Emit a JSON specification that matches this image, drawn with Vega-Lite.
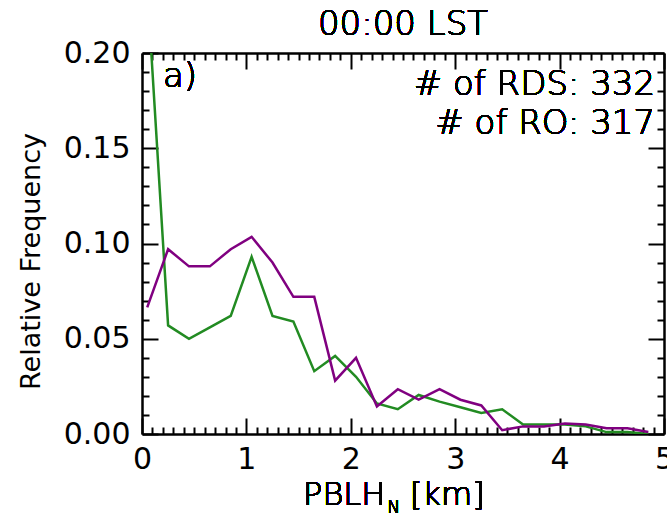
{
  "$schema": "https://vega.github.io/schema/vega-lite/v6.json",
  "autosize": {"type": "none"},
  "padding": {"left": 142, "top": 53, "right": 3, "bottom": 82},
  "width": 522,
  "height": 381,
  "background": "white",
  "config": {
    "view": {"stroke": null},
    "font": "DejaVu Sans",
    "text": {"fontWeight": 300, "font": "DejaVu Sans"},
    "axis": {"grid": false, "domainColor": "black", "tickColor": "black", "labelColor": "black", "titleColor": "black", "labelFlush": false, "labelOverlap": false, "domainWidth": 2.5, "tickWidth": 2}
  },
  "data": {"values": [
    {"km": 0.05, "freq": 0.235, "series": "RDS"},
    {"km": 0.25, "freq": 0.057, "series": "RDS"},
    {"km": 0.45, "freq": 0.050, "series": "RDS"},
    {"km": 0.65, "freq": 0.056, "series": "RDS"},
    {"km": 0.85, "freq": 0.062, "series": "RDS"},
    {"km": 1.05, "freq": 0.093, "series": "RDS"},
    {"km": 1.25, "freq": 0.062, "series": "RDS"},
    {"km": 1.45, "freq": 0.059, "series": "RDS"},
    {"km": 1.65, "freq": 0.033, "series": "RDS"},
    {"km": 1.85, "freq": 0.041, "series": "RDS"},
    {"km": 2.05, "freq": 0.030, "series": "RDS"},
    {"km": 2.25, "freq": 0.016, "series": "RDS"},
    {"km": 2.45, "freq": 0.013, "series": "RDS"},
    {"km": 2.65, "freq": 0.0205, "series": "RDS"},
    {"km": 2.85, "freq": 0.017, "series": "RDS"},
    {"km": 3.05, "freq": 0.014, "series": "RDS"},
    {"km": 3.25, "freq": 0.011, "series": "RDS"},
    {"km": 3.45, "freq": 0.013, "series": "RDS"},
    {"km": 3.65, "freq": 0.005, "series": "RDS"},
    {"km": 3.85, "freq": 0.005, "series": "RDS"},
    {"km": 4.05, "freq": 0.005, "series": "RDS"},
    {"km": 4.25, "freq": 0.004, "series": "RDS"},
    {"km": 4.45, "freq": 0.001, "series": "RDS"},
    {"km": 4.65, "freq": 0.001, "series": "RDS"},
    {"km": 4.85, "freq": 0.0, "series": "RDS"},
    {"km": 0.05, "freq": 0.0665, "series": "RO"},
    {"km": 0.25, "freq": 0.097, "series": "RO"},
    {"km": 0.45, "freq": 0.088, "series": "RO"},
    {"km": 0.65, "freq": 0.088, "series": "RO"},
    {"km": 0.85, "freq": 0.097, "series": "RO"},
    {"km": 1.05, "freq": 0.1035, "series": "RO"},
    {"km": 1.25, "freq": 0.090, "series": "RO"},
    {"km": 1.45, "freq": 0.072, "series": "RO"},
    {"km": 1.65, "freq": 0.072, "series": "RO"},
    {"km": 1.85, "freq": 0.028, "series": "RO"},
    {"km": 2.05, "freq": 0.040, "series": "RO"},
    {"km": 2.25, "freq": 0.0145, "series": "RO"},
    {"km": 2.45, "freq": 0.0235, "series": "RO"},
    {"km": 2.65, "freq": 0.018, "series": "RO"},
    {"km": 2.85, "freq": 0.0236, "series": "RO"},
    {"km": 3.05, "freq": 0.018, "series": "RO"},
    {"km": 3.25, "freq": 0.015, "series": "RO"},
    {"km": 3.45, "freq": 0.002, "series": "RO"},
    {"km": 3.65, "freq": 0.004, "series": "RO"},
    {"km": 3.85, "freq": 0.004, "series": "RO"},
    {"km": 4.05, "freq": 0.0055, "series": "RO"},
    {"km": 4.25, "freq": 0.005, "series": "RO"},
    {"km": 4.45, "freq": 0.003, "series": "RO"},
    {"km": 4.65, "freq": 0.003, "series": "RO"},
    {"km": 4.85, "freq": 0.001, "series": "RO"}
  ]},
  "resolve": {"axis": {"x": "independent", "y": "independent"}},
  "layer": [
    {
      "transform": [{"filter": "datum.series === 'RDS'"}],
      "mark": {"type": "line", "color": "#228B22", "strokeWidth": 2.5, "clip": true},
      "encoding": {
        "x": {"field": "km", "type": "quantitative", "scale": {"domain": [0, 5], "nice": false, "zero": false},
              "axis": {"orient": "bottom", "values": [0, 1, 2, 3, 4, 5], "tickSize": -16, "labelPadding": 26, "labelFontSize": 30, "format": "d", "title": null}},
        "y": {"field": "freq", "type": "quantitative", "scale": {"domain": [0, 0.2], "nice": false},
              "axis": {"orient": "left", "values": [0, 0.05, 0.1, 0.15, 0.2], "tickSize": -16, "labelPadding": 28, "labelFontSize": 30, "format": ".2f", "title": "Relative Frequency", "titleFontSize": 27, "titleFontWeight": "normal", "titleX": -97, "titleY": 208, "titleBaseline": "bottom", "titleAngle": 270, "titleAlign": "center"}}
      }
    },
    {
      "transform": [{"filter": "datum.series === 'RO'"}],
      "mark": {"type": "line", "color": "#800080", "strokeWidth": 2.5, "clip": true},
      "encoding": {
        "x": {"field": "km", "type": "quantitative",
              "axis": {"orient": "top", "values": [0, 1, 2, 3, 4, 5], "tickSize": -16, "labels": false, "title": null}},
        "y": {"field": "freq", "type": "quantitative",
              "axis": {"orient": "right", "values": [0, 0.05, 0.1, 0.15, 0.2], "tickSize": -16, "labels": false, "title": null}}
      }
    },
    {
      "mark": {"type": "text", "text": "a)", "fontSize": 34, "align": "left", "baseline": "alphabetic", "color": "black"},
      "encoding": {
        "x": {"datum": 0.2, "type": "quantitative",
              "axis": {"orient": "bottom", "values": [0.1,0.2,0.3,0.4,0.5,0.6,0.7,0.8,0.9,1.1,1.2,1.3,1.4,1.5,1.6,1.7,1.8,1.9,2.1,2.2,2.3,2.4,2.5,2.6,2.7,2.8,2.9,3.1,3.2,3.3,3.4,3.5,3.6,3.7,3.8,3.9,4.1,4.2,4.3,4.4,4.5,4.6,4.7,4.8,4.9], "tickSize": -7, "labels": false, "domain": false, "title": null}},
        "y": {"datum": 0.1822, "type": "quantitative",
              "axis": {"orient": "left", "values": [0.01,0.02,0.03,0.04,0.06,0.07,0.08,0.09,0.11,0.12,0.13,0.14,0.16,0.17,0.18,0.19], "tickSize": -7, "labels": false, "domain": false, "title": null}}
      }
    },
    {
      "mark": {"type": "text", "text": "# of RDS: 332", "fontSize": 34, "align": "right", "baseline": "alphabetic", "color": "black"},
      "encoding": {
        "x": {"datum": 4.915, "type": "quantitative",
              "axis": {"orient": "top", "values": [0.1,0.2,0.3,0.4,0.5,0.6,0.7,0.8,0.9,1.1,1.2,1.3,1.4,1.5,1.6,1.7,1.8,1.9,2.1,2.2,2.3,2.4,2.5,2.6,2.7,2.8,2.9,3.1,3.2,3.3,3.4,3.5,3.6,3.7,3.8,3.9,4.1,4.2,4.3,4.4,4.5,4.6,4.7,4.8,4.9], "tickSize": -7, "labels": false, "domain": false, "title": null}},
        "y": {"datum": 0.178, "type": "quantitative",
              "axis": {"orient": "right", "values": [0.01,0.02,0.03,0.04,0.06,0.07,0.08,0.09,0.11,0.12,0.13,0.14,0.16,0.17,0.18,0.19], "tickSize": -7, "labels": false, "domain": false, "title": null}}
      }
    },
    {
      "mark": {"type": "text", "text": "# of RO: 317", "fontSize": 34, "align": "right", "baseline": "alphabetic", "color": "black"},
      "encoding": {
        "x": {"datum": 4.915, "type": "quantitative", "axis": null},
        "y": {"datum": 0.1575, "type": "quantitative", "axis": null}
      }
    },
    {
      "mark": {"type": "text", "text": "00:00 LST", "fontSize": 34, "align": "center", "baseline": "alphabetic", "color": "black", "clip": false},
      "encoding": {
        "x": {"datum": 2.5, "type": "quantitative", "axis": null},
        "y": {"datum": 0.2094, "type": "quantitative", "axis": null}
      }
    },
    {
      "mark": {"type": "text", "text": "PBLH", "fontSize": 32, "align": "right", "baseline": "alphabetic", "color": "black", "clip": false},
      "encoding": {
        "x": {"datum": 2.33, "type": "quantitative", "axis": null},
        "y": {"datum": -0.0373, "type": "quantitative", "axis": null}
      }
    },
    {
      "mark": {"type": "text", "text": "N", "fontSize": 17, "align": "left", "baseline": "alphabetic", "color": "black", "clip": false},
      "encoding": {
        "x": {"datum": 2.35, "type": "quantitative", "axis": null},
        "y": {"datum": -0.0415, "type": "quantitative", "axis": null}
      }
    },
    {
      "mark": {"type": "text", "text": "[km]", "fontSize": 32, "align": "left", "baseline": "alphabetic", "color": "black", "clip": false},
      "encoding": {
        "x": {"datum": 2.567, "type": "quantitative", "axis": null},
        "y": {"datum": -0.0373, "type": "quantitative", "axis": null}
      }
    }
  ]
}
